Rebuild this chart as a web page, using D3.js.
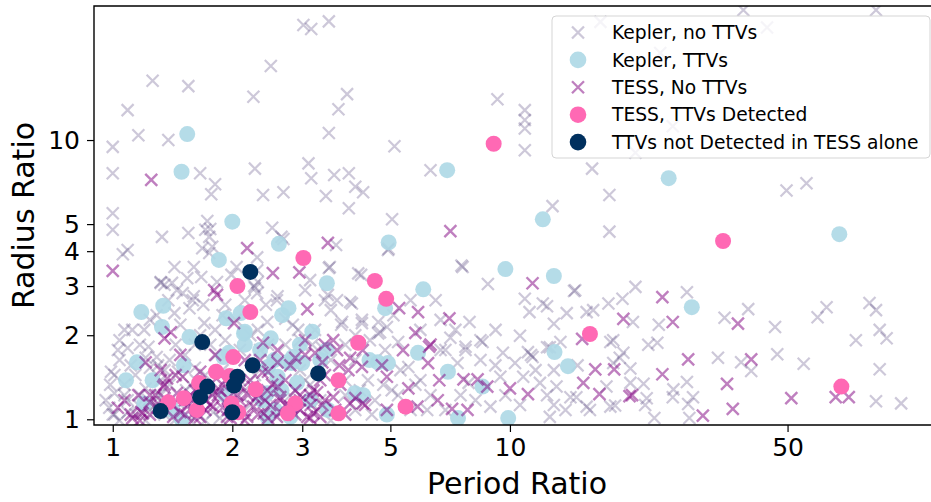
<!DOCTYPE html>
<html>
<head>
<meta charset="utf-8">
<script src="https://cdn.jsdelivr.net/npm/d3@7"></script>
<style>
  body { margin: 0; background: #fff; }
  text { font-family: "DejaVu Sans", sans-serif; fill: #000; }
</style>
</head>
<body>
<script>
// [period ratio, radius ratio]
var keplerNoTTV = [
  [3.02,25.8],[3.16,25.0],[3.5,26.6],[2.5,18.4],[1.26,16.3],[1.55,15.6],[2.26,14.3],[3.89,14.6],[3.7,12.9],[1.09,12.8],
  [1.16,10.4],[1.38,10.0],[1.0,9.45],[3.5,10.6],[5.12,9.5],[1.0,7.6],[1.66,7.6],[2.28,7.9],[3.11,8.25],[3.16,7.3],
  [3.61,7.5],[3.93,7.6],[1.81,6.95],[1.77,6.4],[2.39,6.36],[2.69,6.5],[3.44,6.3],[4.08,6.8],[4.27,6.5],[3.93,5.7],
  [6.31,7.8],[1.0,5.47],[1.0,4.77],[1.33,4.5],[1.55,4.65],[1.73,5.13],[1.76,4.8],[1.71,4.77],[2.52,4.85],[2.69,4.42],
  [5.05,5.2],[1.09,4.04],[38.7,29.2],[83.5,29.2],[16.9,26.5],[44.4,25.3],[23.9,20.5],[9.3,14.0],[10.9,12.8],[10.9,11.8],
  [10.9,11.0],[10.9,9.2],[25.7,11.2],[20.7,9.0],[16.1,7.9],[17.8,6.36],[12.8,5.8],[17.8,4.7],[49.7,6.6],[55.8,7.0],
  [1.06,3.9],[1.68,4.1],[1.78,4.15],[2.31,3.8],[3.65,4.21],[3.5,3.48],[4.22,3.29],[4.95,4.08],[1.43,3.51],[1.6,3.51],
  [1.67,3.23],[1.32,3.1],[1.41,3.08],[1.54,3.2],[1.99,3.29],[2.05,3.51],[2.31,3.42],[2.27,3.0],[1.75,4.5],[2.66,4.5],
  [1.35,3.03],[1.45,2.9],[1.6,2.76],[1.09,1.8],[1.23,1.82],[0.99,1.48],[1.29,2.36],[1.43,2.4],[1.56,2.5],[1.7,2.21],
  [1.82,1.7],[1.01,1.24],[0.98,1.1],[2.28,2.95],[2.6,2.76],[2.43,2.57],[3.42,2.67],[4.0,2.6],[2.84,2.18],[3.78,2.23],
  [4.24,2.21],[4.66,2.03],[5.09,2.36],[4.08,2.0],[3.37,1.8],[4.39,1.38],[4.8,1.33],[5.04,1.27],[1.75,3.94],[1.32,3.08],
  [1.5,2.83],[1.59,2.67],[1.69,2.57],[1.83,3.1],[2.32,3.1],[2.31,2.83],[2.59,2.67],[2.45,2.23],[3.14,3.15],[3.52,3.51],
  [3.48,2.79],[3.67,2.67],[4.15,3.33],[3.96,2.63],[4.24,2.27],[3.76,2.18],[4.66,2.23],[4.71,2.05],[4.9,2.14],[4.93,4.04],
  [7.6,3.51],[7.73,1.77],[6.88,1.77],[1.04,1.63],[1.14,1.44],[1.07,1.33],[1.21,1.29],[1.01,1.04],[1.09,1.17],[1.17,1.22],
  [1.32,1.38],[1.39,1.63],[1.44,1.85],[1.52,1.7],[1.61,1.53],[1.57,1.33],[1.71,1.44],[1.81,1.25],[1.89,1.5],[1.98,1.22],
  [1.46,1.15],[1.35,1.04],[1.24,1.08],[1.64,1.04],[1.79,1.06],[1.3,1.56],[1.2,2.09],[1.66,2.0],[1.76,1.85],[1.92,1.92],
  [2.09,1.77],[2.22,2.0],[2.35,1.77],[2.09,1.38],[2.28,1.44],[2.43,1.22],[2.49,1.63],[2.72,1.85],[2.96,1.5],[3.14,1.33],
  [3.33,1.17],[3.54,1.63],[3.85,1.22],[4.08,1.08],[4.57,1.17],[2.96,1.92],[3.23,2.09],[2.04,2.27],[2.15,2.67],[1.92,2.57],
  [2.72,2.29],[3.05,2.9],[1.17,1.85],[1.12,2.09],[1.04,1.92],[5.3,1.5],[5.78,1.33],[6.31,1.22],[5.95,2.09],[6.69,2.27],
  [6.5,2.67],[5.62,2.67],[7.29,2.09],[6.88,1.08],[7.51,1.22],[8.19,1.17],[8.43,1.63],[9.19,1.56],[9.74,1.22],[10.6,1.125],
  [11.6,1.5],[12.4,1.22],[13.8,1.08],[7.55,3.55],[8.8,3.05],[10.9,2.7],[12.1,2.6],[14.5,2.88],[11.2,2.42],[12.9,2.2],
  [13.9,2.4],[15.6,2.42],[17.7,2.6],[19.2,2.7],[20.7,2.98],[7.91,2.23],[9.2,2.09],[7.08,1.96],[7.73,1.82],[8.53,1.89],
  [9.6,1.73],[10.6,1.99],[11.1,1.74],[11.3,1.70],[11.4,1.67],[12.4,1.81],[13.4,1.89],[17.9,1.89],[18.9,1.66],[5.23,1.89],
  [5.55,1.54],[6.69,1.77],[7.38,1.59],[7.87,1.35],[9.46,1.42],[10.8,1.42],[11.9,1.35],[13.1,1.31],[14.2,1.2],[15.9,1.08],
  [17.9,1.11],[12.6,1.02],[8.93,1.11],[6.19,1.08],[27.9,2.85],[20.4,2.23],[23.7,2.18],[22.3,1.85],[23.5,1.88],[34.7,2.31],
  [39.8,2.48],[46.5,2.14],[59.5,2.32],[62.7,2.52],[80.4,2.61],[83.5,2.46],[85.3,2.09],[88.8,1.95],[74.3,1.92],[33.4,1.66],
  [38.2,1.6],[40.5,1.49],[47.1,1.71],[54.9,1.58],[85.3,1.51],[21.7,1.34],[22.1,1.19],[25.8,1.28],[27.9,1.36],[28.9,1.2],
  [28.1,1.135],[23.1,1.01],[28.3,1.01],[83.5,1.16],[96.6,1.14],[20.1,1.52],[8.43,1.92],[12.6,1.81],[10.3,1.59],[12.9,1.5],
  [18.2,1.92],[19.3,1.73],[18.2,1.59],[14.8,1.56],[17.5,1.31],[20.1,1.35],[25.7,1.2],[21.9,1.125],[18.4,1.12],[15.6,1.11],
  [14.7,1.2],[12.9,1.125],[12.4,2.54],[14.6,2.9],[16.2,2.46],
  [1.21,1.66],[1.24,1.53],[1.29,1.67],[1.35,1.5],[1.39,1.33],[1.46,1.48],[1.53,1.27],[1.62,1.38],[1.23,1.17],[1.3,1.22],
  [1.04,0.99],[1.09,1.06],[1.16,1.125],[1.43,0.99],[1.57,0.99],[1.71,0.99],[1.86,1.01],[2.0,1.38],[2.15,1.27],[2.22,1.125],
  [2.42,1.08],[2.56,1.33],[2.8,1.22],[3.05,1.38],[3.29,1.08],[3.54,0.99],[3.85,1.38],[4.19,1.27],[4.49,1.04],[0.985,1.33],
  [1.03,1.77],[1.07,2.09],[1.24,2.27],[1.38,2.67],[1.48,2.18],[1.61,1.85],[1.81,2.09],[1.89,2.36],[2.32,2.09],[2.46,1.85],
  [2.93,2.09],[3.18,1.85],[3.54,2.46],[3.85,1.85],[4.08,1.63],[4.44,1.92],[4.85,1.77],[5.23,1.22],[5.62,1.08],[5.95,1.38],
  [0.96,1.17],[1.0,1.04],[1.07,1.22],[1.14,1.04],[1.21,0.99],[1.28,1.125],[1.01,1.44],[1.11,1.56],[1.32,1.22],[1.39,1.06]
];

var keplerTTV = [
  [1.54,10.5],[1.49,7.7],[2.0,5.1],[2.62,4.25],[4.95,4.3],[6.95,7.8],[12.1,5.2],[25.1,7.3],[67.5,4.6],[28.7,2.52],
  [9.74,3.45],[12.9,3.26],[6.05,2.92],[1.85,3.72],[3.46,3.07],[1.18,2.42],[1.34,2.55],[1.33,2.14],[1.15,1.6],[1.08,1.38],
  [1.26,1.38],[1.56,1.97],[1.51,1.56],[1.93,2.3],[1.96,1.73],[2.1,2.4],[1.2,1.14],[2.77,2.5],[2.67,2.36],[2.15,2.06],
  [3.18,2.06],[2.5,1.95],[4.85,2.5],[4.65,1.6],[4.93,1.59],[2.75,1.6],[2.46,1.54],[4.07,1.24],[4.27,1.22],[4.9,1.04],
  [2.6,1.42],[5.87,1.73],[6.98,1.48],[8.53,1.31],[12.95,1.74],[14.0,1.55],[7.4,1.01],[9.9,1.01],[2.84,1.67],[3.0,1.59],
  [4.43,1.63],[3.48,1.08],[2.45,1.02],[2.8,1.02],[1.9,1.67],[1.49,1.0],
  [2.35,1.77],[2.96,1.85],[3.33,1.63],[2.38,1.17],[3.14,1.17],[2.56,1.08],[2.15,1.85],[1.92,1.22],[1.41,1.08],
  [2.55,1.63],[2.82,1.59],[3.46,1.77],[2.66,1.27],[2.91,1.35],[2.45,1.24],[2.14,2.03]
];

var tessNoTTV = [
  [1.25,7.2],[2.18,4.1],[3.48,4.28],[7.08,4.72],[1.0,3.4],[2.53,3.34],[2.95,3.36],[1.8,2.9],[1.83,2.79],[1.4,2.05],
  [1.35,1.95],[2.02,2.21],[1.21,1.6],[1.5,1.42],[1.03,1.1],[1.11,1.04],[1.18,1.06],[1.45,1.24],[3.09,2.48],[3.05,1.92],
  [2.6,1.77],[2.39,1.88],[2.88,1.66],[3.67,1.77],[3.92,1.5],[4.26,1.77],[4.76,1.56],[4.26,1.14],[3.2,1.27],[2.6,1.31],
  [2.38,1.47],[2.25,1.31],[3.23,1.73],[11.4,3.07],[7.04,2.3],[5.87,2.42],[5.26,2.5],[5.78,2.04],[5.38,1.77],[6.26,1.82],
  [6.22,1.59],[5.55,1.29],[6.64,1.38],[7.64,1.39],[8.29,1.39],[8.77,1.31],[10.0,1.29],[11.1,1.23],[6.58,1.17],[7.82,1.08],
  [19.3,2.29],[15.2,1.94],[16.4,1.51],[18.3,1.51],[15.3,1.35],[16.8,1.23],[20.0,1.21],[24.2,2.74],[25.7,2.23],[37.5,2.2],
  [28.1,1.64],[40.5,1.64],[24.2,1.45],[35.2,1.34],[36.4,1.09],[30.6,1.03],[51.1,1.19],[66.1,1.2],[71.3,1.2],[20.3,1.22],
  [3.59,1.92],[3.96,1.66],[4.24,1.54],[4.9,1.42],[6.31,1.85],[7.15,1.09],[5.85,1.11],[4.9,1.08],[4.32,1.125],[3.59,1.2],
  [3.27,1.25],[3.2,1.05],[3.15,1.125],[2.88,1.27],[2.64,1.2],[2.45,1.27],[2.26,1.11],[2.4,1.05],[2.22,1.38],[1.84,1.22],
  [1.79,1.11],[1.66,1.02],[1.54,1.11],[1.34,1.31],[1.32,1.11],[1.24,1.15],[1.12,1.01],[1.19,1.05],[1.37,1.4],[1.42,1.02],
  [1.94,1.02],[2.18,1.02],[2.59,1.02],[2.8,1.11],[3.09,1.02],[3.33,1.02],[3.96,1.14],[1.57,1.22],[1.71,1.17],[1.89,1.33],
  [2.09,1.17],[2.49,1.125],[2.72,1.38],[2.96,1.22],[3.42,1.44],[3.74,1.33],[2.32,1.22],[1.76,1.33],[1.61,1.06],[1.48,1.06],
  [1.28,1.22],[2.06,1.22],[2.6,1.6],[2.15,1.63],[1.66,1.48],[1.81,1.70],[3.37,1.6],
  [1.07,1.17],[1.16,1.22],[1.24,1.04],[1.3,1.1],[1.35,1.19],[1.41,1.125],[1.52,1.04],[1.58,1.17],[1.71,1.08],[1.78,1.22],
  [1.89,1.1],[1.95,1.19],[2.12,1.08],[2.19,1.22],[2.32,1.04],[2.42,1.17],[2.52,1.33],[2.64,1.06],[2.72,1.125],[2.88,1.04],
  [2.96,1.17],[3.14,1.22],[3.37,1.125],[3.63,1.08],[3.85,1.04],[4.08,1.19],[2.09,1.33],[1.92,1.38],[2.46,1.48],[2.8,1.56],
  [3.05,1.7],[3.42,1.85],[3.72,1.56],[1.48,1.7],[1.61,1.27],[1.32,1.5],[2.35,1.63],[3.33,1.38],
  [1.35,1.33],[1.44,1.44],[1.52,1.17],[1.61,1.01],[1.76,1.125],[1.86,1.27],[1.98,1.01],[2.15,0.99],[2.29,1.19],[2.46,1.01],
  [1.24,1.22],[1.17,0.99],[1.66,1.125],[1.95,1.08],[3.14,1.01],[3.42,1.17],[2.96,1.08],[2.64,1.17]
];

var tessTTV = [
  [9.1,9.7],[34.4,4.35],[3.02,3.78],[4.57,3.13],[2.06,3.0],[4.88,2.7],[2.22,2.42],[4.15,1.88],[15.9,2.02],[68.3,1.31],
  [5.46,1.11],[3.7,1.38],[2.29,1.28],[2.88,1.14],[2.76,1.05],[3.7,1.05],[2.01,1.67],[1.82,1.48],[1.65,1.35],[1.51,1.19],
  [1.38,1.15],[1.63,1.08],[1.99,1.14],[2.07,1.06],[1.97,1.43]
];

var notDetected = [
  [2.22,3.37],[1.68,1.89],[1.32,1.07],[1.73,1.31],[1.66,1.2],[2.06,1.42],[2.02,1.32],[2.0,1.06],[2.25,1.56],[3.29,1.46]
];

var xTicks = [1, 2, 3, 5, 10, 50];
var yTicks = [1, 2, 3, 4, 5, 10];
var legendLabels = ["Kepler, no TTVs", "Kepler, TTVs", "TESS, No TTVs", "TESS, TTVs Detected", "TTVs not Detected in TESS alone"];

var width = 931, height = 502;
var plotLeft = 94, plotTop = 6, plotBottom = 425, plotRight = 940;

var svg = d3.select("body").append("svg")
    .attr("width", width)
    .attr("height", height);

var x = d3.scaleLog().domain([0.897, 121]).range([plotLeft, plotRight]);
var y = d3.scaleLog().domain([0.954, 30.2]).range([plotBottom, plotTop]);

svg.append("clipPath").attr("id", "plot")
  .append("rect")
    .attr("x", plotLeft).attr("y", plotTop)
    .attr("width", plotRight - plotLeft).attr("height", plotBottom - plotTop);

var cross = "M-6,-6L6,6M-6,6L6,-6";
var plot = svg.append("g").attr("clip-path", "url(#plot)");

function crosses(data, color, opacity, sw) {
  plot.append("g").selectAll("path")
    .data(data)
    .enter().append("path")
      .attr("d", cross)
      .attr("transform", function(d) { return "translate(" + x(d[0]) + "," + y(d[1]) + ")"; })
      .attr("stroke", color)
      .attr("stroke-opacity", opacity)
      .attr("stroke-width", sw)
      .attr("fill", "none");
}

function dots(data, color, opacity) {
  plot.append("g").selectAll("circle")
    .data(data)
    .enter().append("circle")
      .attr("cx", function(d) { return x(d[0]); })
      .attr("cy", function(d) { return y(d[1]); })
      .attr("r", 8)
      .attr("fill", color)
      .attr("fill-opacity", opacity);
}

crosses(keplerNoTTV, "#5a4a82", 0.3, 2.2);
dots(keplerTTV, "#add8e6", 0.9);
crosses(tessNoTTV, "purple", 0.5, 2.4);
dots(tessTTV, "#ff69b4", 1);
dots(notDetected, "#00305e", 1);

// axes
var xAxis = svg.append("g")
    .attr("transform", "translate(0," + plotBottom + ")")
    .call(d3.axisBottom(x).tickValues(xTicks).tickFormat(d3.format("d")).tickSize(7).tickPadding(6));
var yAxis = svg.append("g")
    .attr("transform", "translate(" + plotLeft + ",0)")
    .call(d3.axisLeft(y).tickValues(yTicks).tickFormat(d3.format("d")).tickSize(7).tickPadding(7));

[xAxis, yAxis].forEach(function(a) {
  a.select(".domain").remove();
  a.attr("font-size", 25).attr("font-family", "DejaVu Sans");
  a.selectAll(".tick line").attr("stroke", "#000").attr("stroke-width", 1.2);
  a.selectAll(".tick text").attr("fill", "#000");
});

svg.append("path")
    .attr("d", "M" + plotRight + "," + plotTop + "H" + plotLeft + "V" + plotBottom + "H" + plotRight)
    .attr("fill", "none")
    .attr("stroke", "#000")
    .attr("stroke-width", 1.4);

svg.append("text")
    .attr("x", 517).attr("y", 494)
    .attr("text-anchor", "middle")
    .attr("font-size", 30)
    .text("Period Ratio");

svg.append("text")
    .attr("transform", "translate(34," + ((plotTop + plotBottom) / 2) + ") rotate(-90)")
    .attr("text-anchor", "middle")
    .attr("font-size", 30)
    .text("Radius Ratio");

// legend
var legend = svg.append("g");
legend.append("rect")
    .attr("x", 552).attr("y", 16)
    .attr("width", 378).attr("height", 142)
    .attr("rx", 4)
    .attr("fill", "#fff").attr("fill-opacity", 0.8)
    .attr("stroke", "#d5d5d5");

var legendStyle = [
  {type: "x", color: "#5a4a82", op: 0.3},
  {type: "o", color: "#add8e6", op: 0.9},
  {type: "x", color: "purple", op: 0.5},
  {type: "o", color: "#ff69b4", op: 1},
  {type: "o", color: "#00305e", op: 1}
];

legendLabels.forEach(function(label, i) {
  var cy = 32.5 + i * 27.4;
  var s = legendStyle[i];
  if (s.type === "x") {
    legend.append("path")
      .attr("d", cross)
      .attr("transform", "translate(578," + cy + ")")
      .attr("stroke", s.color).attr("stroke-opacity", s.op)
      .attr("stroke-width", 2.3).attr("fill", "none");
  } else {
    legend.append("circle")
      .attr("cx", 578).attr("cy", cy).attr("r", 8.3)
      .attr("fill", s.color).attr("fill-opacity", s.op);
  }
  legend.append("text")
    .attr("x", 612).attr("y", cy + 6.6)
    .attr("font-size", 18.7)
    .text(label);
});
</script>
</body>
</html>
